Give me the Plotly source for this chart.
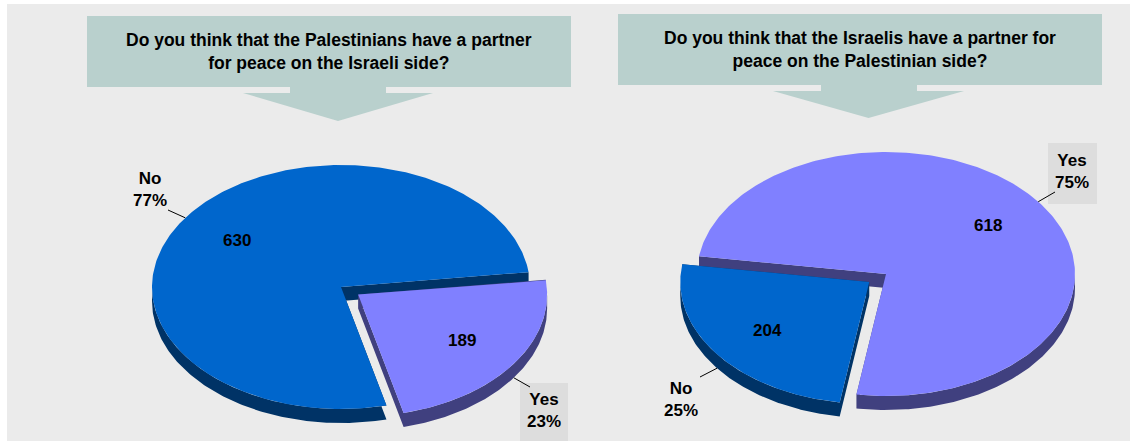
import numpy as np
import plotly.graph_objects as go

# Survey answers and respondent counts for each question
answers = ["No", "Yes"]
left_counts = [630, 189]
right_counts = [204, 618]
left_question = "Do you think that the Palestinians have a partner<br>for peace on the Israeli side?"
right_question = "Do you think that the Israelis have a partner for<br>peace on the Palestinian side?"

# Styling
TOP_COLOR = {"No": "#0066CC", "Yes": "#8080FF"}
SIDE_COLOR = {"No": "#003366", "Yes": "#40407F"}
BG = "#EBEBEB"
BOX = "#B9D0CD"
LABEL_BOX = "#DDDDDD"
FONT = "Liberation Sans, Arial, sans-serif"

W, H = 1131, 443
RX, RY, DEPTH = 189, 122, 14      # ellipse radii and extrusion of the tilted pies
EXPLODE = 0.11                    # pulled-out slice offset (fraction of radius)
INNER_F = 0.667                   # radial position of the count labels

pies = [
    dict(counts=left_counts, center=(341, 287), start=-7, order=["Yes", "No"], pulled="Yes",
         outside={"No": ((168, 210), (150, 189)), "Yes": ((530, 387), (544, 410))},
         question=left_question, box=(87, 16, 571, 87), stem=(290, 386), head=(243, 433, 121)),
    dict(counts=right_counts, center=(886, 274), start=99, order=["No", "Yes"], pulled="No",
         outside={"Yes": ((1055, 192), (1072, 171)), "No": ((700, 377), (681, 399))},
         question=right_question, box=(618, 14, 1102, 85), stem=(821, 917), head=(773, 964, 118)),
]
label_boxes = {0: {"Yes": (520, 383, 568, 441)}, 1: {"Yes": (1048, 143, 1097, 204)}}


def rim(cx, cy, deg):
    t = np.radians(deg)
    return cx + RX * np.cos(t), cy + RY * np.sin(t)


fig = go.Figure()
shapes = [dict(type="rect", xref="x", yref="y", x0=7, y0=4, x1=1130, y1=441,
               fillcolor=BG, line_width=0, layer="below")]
annotations = []

for pi, pie in enumerate(pies):
    values = dict(zip(answers, pie["counts"]))
    total = sum(values.values())
    cx0, cy0 = pie["center"]

    # angular extent of every slice, clockwise on screen
    spans = {}
    ang = pie["start"]
    for name in pie["order"]:
        sweep = 360.0 * values[name] / total
        spans[name] = (ang, ang + sweep)
        ang += sweep

    draw_order = [n for n in pie["order"] if n != pie["pulled"]] + [pie["pulled"]]
    for name in draw_order:
        a, b = spans[name]
        mid = (a + b) / 2
        off = EXPLODE if name == pie["pulled"] else 0.0
        cx = cx0 + off * RX * np.cos(np.radians(mid))
        cy = cy0 + off * RY * np.sin(np.radians(mid))

        # side walls: front part of the rim plus both radial cuts
        wx, wy = [], []
        for k in range(-1, 3):
            lo, hi = max(a, 360 * k), min(b, 360 * k + 180)
            if hi > lo:
                th = np.linspace(lo, hi, 120)
                px, py = rim(cx, cy, th)
                wx += list(px) + list(px[::-1]) + [None]
                wy += list(py) + list(py[::-1] + DEPTH) + [None]
        for edge in (a, b):
            ex, ey = rim(cx, cy, edge)
            wx += [cx, ex, ex, cx, None]
            wy += [cy, ey, ey + DEPTH, cy + DEPTH, None]
        fig.add_trace(go.Scatter(x=wx, y=wy, mode="lines", fill="toself",
                                 fillcolor=SIDE_COLOR[name], line=dict(width=0),
                                 hoverinfo="skip", showlegend=False))

        # top face
        th = np.linspace(a, b, 300)
        px, py = rim(cx, cy, th)
        fig.add_trace(go.Scatter(x=[cx] + list(px) + [cx], y=[cy] + list(py) + [cy],
                                 mode="lines", fill="toself", fillcolor=TOP_COLOR[name],
                                 line=dict(width=0), hoverinfo="skip", showlegend=False,
                                 name=name))

        # count label inside the slice
        lx = cx + INNER_F * RX * np.cos(np.radians(mid))
        ly = cy + INNER_F * RY * np.sin(np.radians(mid))
        annotations.append(dict(x=lx, y=ly, text=str(values[name]), showarrow=False,
                                font=dict(size=17, color="black", family=FONT, weight="bold"),
                                xanchor="center", yanchor="middle"))

        # category + percentage label outside, with a leader line
        sx, sy = rim(cx, cy, mid)
        if np.sin(np.radians(mid)) > 0:
            sy += DEPTH
        (lead_x, lead_y), (tx, ty) = pie["outside"][name]
        if name in label_boxes[pi]:
            x0, y0, x1, y1 = label_boxes[pi][name]
            shapes.append(dict(type="rect", xref="x", yref="y", x0=x0, y0=y0, x1=x1, y1=y1,
                               fillcolor=LABEL_BOX, line_width=0))
        shapes.append(dict(type="line", xref="x", yref="y", x0=sx, y0=sy, x1=lead_x, y1=lead_y,
                           line=dict(color="black", width=1)))
        pct = round(100 * values[name] / total)
        annotations.append(dict(x=tx, y=ty, text=f"{name}<br>{pct}%", showarrow=False,
                                font=dict(size=17, color="black", family=FONT, weight="bold"),
                                xanchor="center", yanchor="middle", align="center"))

    # question banner with a downward arrow
    bx0, by0, bx1, by1 = pie["box"]
    shapes.append(dict(type="rect", xref="x", yref="y", x0=bx0, y0=by0, x1=bx1, y1=by1,
                       fillcolor=BOX, line_width=0))
    s0, s1 = pie["stem"]
    h0, h1, tip = pie["head"]
    neck = by1 + 6
    shapes.append(dict(type="path", xref="x", yref="y",
                       path=f"M{s0},{by1} L{s1},{by1} L{s1},{neck} L{h1},{neck} "
                            f"L{(h0 + h1) / 2},{tip} L{h0},{neck} L{s0},{neck} Z",
                       fillcolor=BOX, line_width=0))
    annotations.append(dict(x=(bx0 + bx1) / 2, y=(by0 + by1) / 2, text=pie["question"],
                            showarrow=False, xanchor="center", yanchor="middle", align="center",
                            font=dict(size=17.5, color="black", family=FONT, weight="bold")))

fig.update_layout(
    width=W, height=H, margin=dict(l=0, r=0, t=0, b=0),
    paper_bgcolor="white", plot_bgcolor="white",
    xaxis=dict(range=[0, W], visible=False, fixedrange=True),
    yaxis=dict(range=[H, 0], visible=False, fixedrange=True),
    shapes=shapes, annotations=annotations, showlegend=False,
)
fig.write_html("out.html")
